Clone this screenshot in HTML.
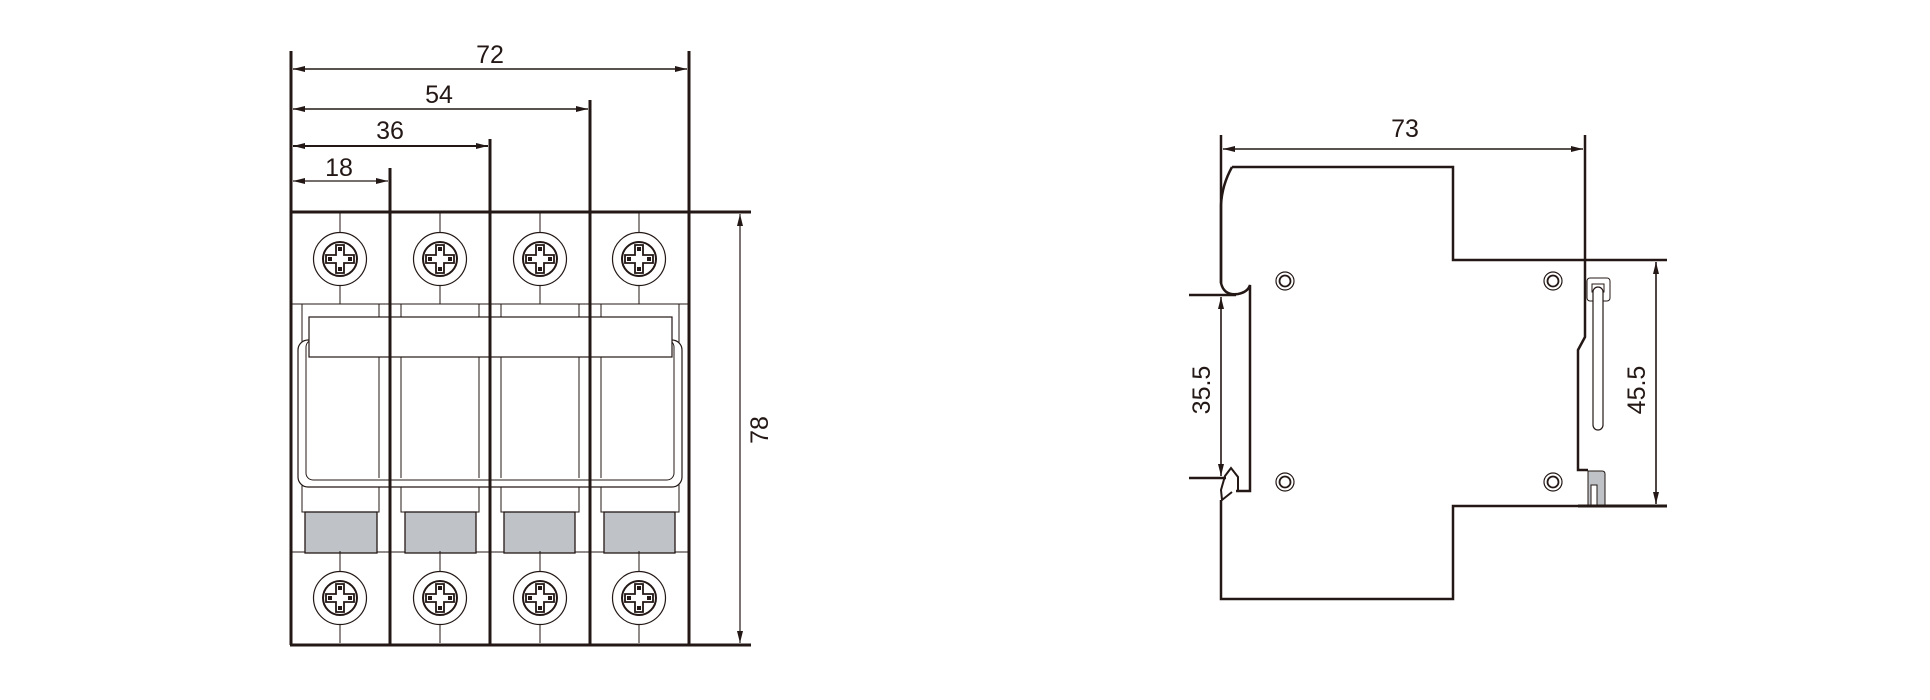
<!DOCTYPE html>
<html><head><meta charset="utf-8"><style>html,body{margin:0;padding:0;background:#fff}svg{display:block}text{font-family:"Liberation Sans",sans-serif;font-size:25px;fill:#231815}</style></head><body>
<svg width="1930" height="700" viewBox="0 0 1930 700" xmlns="http://www.w3.org/2000/svg">
<defs>
<marker id="a" viewBox="0 0 12 6" refX="12" refY="3" markerWidth="12" markerHeight="6" orient="auto-start-reverse" markerUnits="userSpaceOnUse"><path d="M0,0 L12,3 L0,6 z" fill="#231815"/></marker>
<g id="scr"><line x1="0" y1="-47" x2="0" y2="-27" stroke="#231815" stroke-width="1"/><line x1="0" y1="27" x2="0" y2="45" stroke="#231815" stroke-width="1"/><circle r="26.5" fill="none" stroke="#231815" stroke-width="1.2"/><circle r="17" fill="none" stroke="#231815" stroke-width="2"/><path d="M-4,-14 H4 V-4 H14 V4 H4 V14 H-4 V4 H-14 V-4 H-4 Z" fill="#fff" stroke="#231815" stroke-width="1.8"/><rect x="-2" y="-12" width="4" height="4" fill="#231815"/><rect x="-2" y="8" width="4" height="4" fill="#231815"/><rect x="-12" y="-2" width="4" height="4" fill="#231815"/><rect x="8" y="-2" width="4" height="4" fill="#231815"/></g>
</defs>
<g stroke="#231815" fill="none">
<!-- left view thin internals -->
<line x1="291" y1="304" x2="689" y2="304" stroke-width="1"/>
<line x1="291" y1="552" x2="689" y2="552" stroke-width="1"/>
<g stroke-width="1">
<rect x="302" y="304" width="77" height="208"/><rect x="401" y="304" width="78" height="208"/><rect x="501" y="304" width="78" height="208"/><rect x="601" y="304" width="78" height="208"/>
</g>
<g fill="#bfc3c8" stroke-width="1.3">
<rect x="305" y="512" width="72" height="41"/><rect x="405" y="512" width="71" height="41"/><rect x="504" y="512" width="71" height="41"/><rect x="604" y="512" width="71" height="41"/>
</g>
<rect x="298" y="340" width="384" height="147" rx="10" fill="#fff" stroke-width="1.2"/>
<rect x="306" y="340" width="368" height="140" rx="7" stroke-width="1"/>
<line x1="379" y1="345" x2="379" y2="478" stroke-width="1"/><line x1="401" y1="345" x2="401" y2="478" stroke-width="1"/>
<line x1="479" y1="345" x2="479" y2="478" stroke-width="1"/><line x1="501" y1="345" x2="501" y2="478" stroke-width="1"/>
<line x1="579" y1="345" x2="579" y2="478" stroke-width="1"/><line x1="601" y1="345" x2="601" y2="478" stroke-width="1"/>
<line x1="302" y1="487" x2="302" y2="512" stroke-width="1"/><line x1="379" y1="487" x2="379" y2="512" stroke-width="1"/>
<line x1="401" y1="487" x2="401" y2="512" stroke-width="1"/><line x1="479" y1="487" x2="479" y2="512" stroke-width="1"/>
<line x1="501" y1="487" x2="501" y2="512" stroke-width="1"/><line x1="579" y1="487" x2="579" y2="512" stroke-width="1"/>
<line x1="601" y1="487" x2="601" y2="512" stroke-width="1"/><line x1="679" y1="487" x2="679" y2="512" stroke-width="1"/>
<rect x="309" y="317" width="363" height="40" fill="#fff" stroke-width="1.2"/>
<!-- thick lines -->
<g stroke-width="3">
<line x1="291" y1="51" x2="291" y2="645"/><line x1="390" y1="168" x2="390" y2="645"/><line x1="490" y1="139" x2="490" y2="645"/><line x1="590" y1="100" x2="590" y2="645"/><line x1="689" y1="51" x2="689" y2="645"/>
<line x1="290" y1="212" x2="751" y2="212"/><line x1="290" y1="645" x2="751" y2="645"/>
</g>
<g stroke-width="1.6">
<line x1="293" y1="69" x2="687" y2="69" marker-start="url(#a)" marker-end="url(#a)"/>
<line x1="293" y1="109" x2="588" y2="109" marker-start="url(#a)" marker-end="url(#a)"/>
<line x1="293" y1="146" x2="488" y2="146" marker-start="url(#a)" marker-end="url(#a)" stroke-width="2"/>
<line x1="293" y1="181" x2="388" y2="181" marker-start="url(#a)" marker-end="url(#a)" stroke-width="1.2"/>
<line x1="740" y1="214" x2="740" y2="643" marker-start="url(#a)" marker-end="url(#a)" stroke-width="1.2"/>
</g>
</g>
<use href="#scr" x="340" y="259"/><use href="#scr" x="440" y="259"/><use href="#scr" x="540" y="259"/><use href="#scr" x="639" y="259"/>
<use href="#scr" x="340" y="598"/><use href="#scr" x="440" y="598"/><use href="#scr" x="540" y="598"/><use href="#scr" x="639" y="598"/>
<text x="490" y="63" text-anchor="middle">72</text>
<text x="439" y="103" text-anchor="middle">54</text>
<text x="390" y="139" text-anchor="middle">36</text>
<text x="339" y="176" text-anchor="middle">18</text>
<text transform="translate(768,430) rotate(-90)" text-anchor="middle">78</text>

<!-- right view -->
<g stroke="#231815" fill="none" stroke-width="2.5">
<path d="M1232,167 H1453 V260 H1667"/>
<path d="M1232,167 Q1222,185 1221,205 V283 Q1224,296 1238,294 Q1248,292 1250,285 V491 H1236"/>
<path d="M1221,500 V599 H1453 V506 H1667"/>
<path d="M1585,135 V337 L1578,350 V470 H1588"/>
<line x1="1221" y1="135" x2="1221" y2="283"/>
<path d="M1238,491 V477 L1231,468 L1225,476 L1221,490 L1222,500 L1232,492" stroke-width="2"/>
<line x1="1189" y1="295" x2="1236" y2="295"/>
<line x1="1189" y1="478" x2="1226" y2="478"/>
<line x1="1578" y1="506" x2="1667" y2="506" stroke-width="3"/>
</g>
<g stroke="#231815" fill="none" stroke-width="1.6">
<line x1="1223" y1="149" x2="1583" y2="149" marker-start="url(#a)" marker-end="url(#a)"/>
<line x1="1221" y1="297" x2="1221" y2="476" marker-start="url(#a)" marker-end="url(#a)"/>
<line x1="1656" y1="262" x2="1656" y2="504" marker-start="url(#a)" marker-end="url(#a)"/>
</g>
<g stroke="#231815" fill="none" stroke-width="1.2">
<circle cx="1285" cy="281" r="9"/><circle cx="1285" cy="281" r="5.5" stroke-width="1.8"/>
<circle cx="1553" cy="281" r="9"/><circle cx="1553" cy="281" r="5.5" stroke-width="1.8"/>
<circle cx="1285" cy="482" r="9"/><circle cx="1285" cy="482" r="5.5" stroke-width="1.8"/>
<circle cx="1553" cy="482" r="9"/><circle cx="1553" cy="482" r="5.5" stroke-width="1.8"/>
<rect x="1587" y="278" width="23" height="23" rx="3" stroke-width="1"/>
<rect x="1592" y="284" width="12" height="8" stroke-width="1"/>
<rect x="1593" y="287" width="10" height="143" rx="5" fill="#fff"/>
<path d="M1588,471 H1602 Q1605,471 1605,474 V505 H1597 V485 H1591 V505 H1588 Z" fill="#bfc3c8" stroke-width="1"/>
</g>
<text x="1405" y="137" text-anchor="middle">73</text>
<text transform="translate(1210,390) rotate(-90)" text-anchor="middle">35.5</text>
<text transform="translate(1645,390) rotate(-90)" text-anchor="middle">45.5</text>
</svg>
</body></html>
